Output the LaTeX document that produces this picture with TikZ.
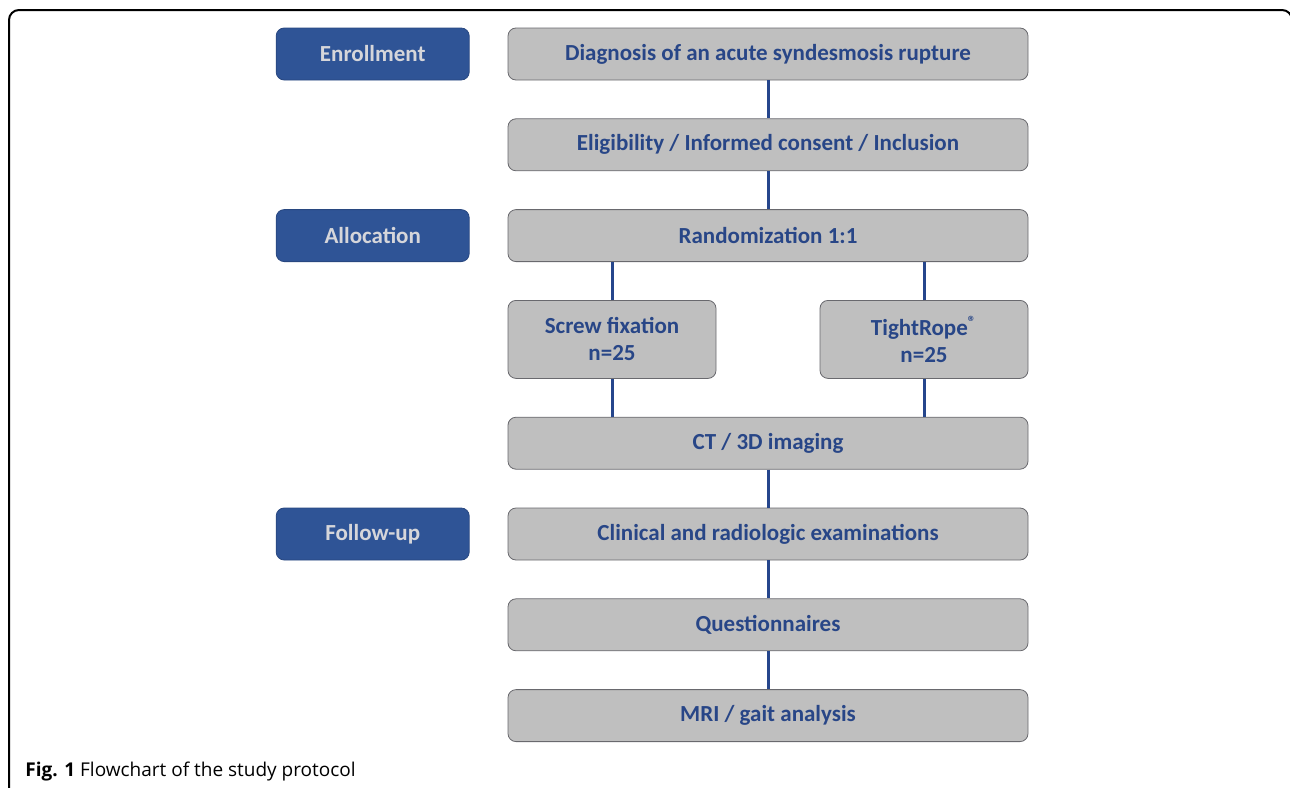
\documentclass[tikz,border=0pt]{standalone}
\usepackage{fontspec}
\setmainfont{Carlito}
\newfontfamily\capfont{Open Sans}
\usetikzlibrary{positioning}
\definecolor{phaseblue}{RGB}{47,84,150}
\definecolor{phasetext}{RGB}{214,214,218}
\definecolor{boxgray}{RGB}{191,191,191}
\definecolor{boxedge}{RGB}{105,105,110}
\definecolor{textblue}{RGB}{40,70,135}
\definecolor{linkblue}{RGB}{38,70,140}

\begin{document}
\begin{tikzpicture}[
    x=0.5pt,y=-0.5pt,
    node distance=19pt,
    phase/.style={rectangle,rounded corners=4pt,draw=phaseblue!85!black,fill=phaseblue,
      minimum width=96.5pt,minimum height=26pt,align=center,
      text=phasetext,font=\bfseries\fontsize{11.5}{13.5}\selectfont},
    stage/.style={rectangle,rounded corners=4pt,draw=boxedge,fill=boxgray,
      minimum width=260pt,minimum height=26pt,align=center,
      text=textblue,font=\bfseries\fontsize{11.5}{13.5}\selectfont},
    branch/.style={stage,minimum width=104pt,minimum height=39pt},
    link/.style={draw=linkblue,line width=1.5pt}
  ]
    \useasboundingbox (0,0) rectangle (1290,787);
    \draw[line width=1pt,rounded corners=5pt] (9,820) -- (9,10) -- (1292,10) -- (1292,820);

    % main column
    \node[stage] (diag) at (768,54) {Diagnosis of an acute syndesmosis rupture};
    \node[stage,below=of diag] (elig) {Eligibility / Informed consent / Inclusion};
    \node[stage,below=of elig] (rand) {Randomization 1:1};
    \node[branch,below=of rand.south west,anchor=north west] (screw) {Screw fixation\\n=25};
    \node[branch,below=of rand.south east,anchor=north east] (rope) {TightRope\textsuperscript{®}\\n=25};
    \node[stage,below=of screw.south west,anchor=north west] (ct) {CT / 3D imaging};
    \node[stage,below=of ct] (clin) {Clinical and radiologic examinations};
    \node[stage,below=of clin] (quest) {Questionnaires};
    \node[stage,below=of quest] (mri) {MRI / gait analysis};

    % phases
    \node[phase,left=of diag] (enrol) {Enrollment};
    \node[phase,left=of rand] (alloc) {Allocation};
    \node[phase,left=of clin] (follow) {Follow-up};

    \draw[link] (diag) -- (elig);
    \draw[link] (elig) -- (rand);
    \draw[link] (screw.north) -- (screw.north |- rand.south);
    \draw[link] (rope.north) -- (rope.north |- rand.south);
    \draw[link] (screw.south) -- (screw.south |- ct.north);
    \draw[link] (rope.south) -- (rope.south |- ct.north);
    \draw[link] (ct) -- (clin);
    \draw[link] (clin) -- (quest);
    \draw[link] (quest) -- (mri);

    \node[anchor=west,inner sep=0pt,font=\capfont\fontsize{9.5}{11}\selectfont] (caption) at (25,772)
      {\textbf{Fig. 1} Flowchart of the study protocol};
  \end{tikzpicture}
\end{document}
